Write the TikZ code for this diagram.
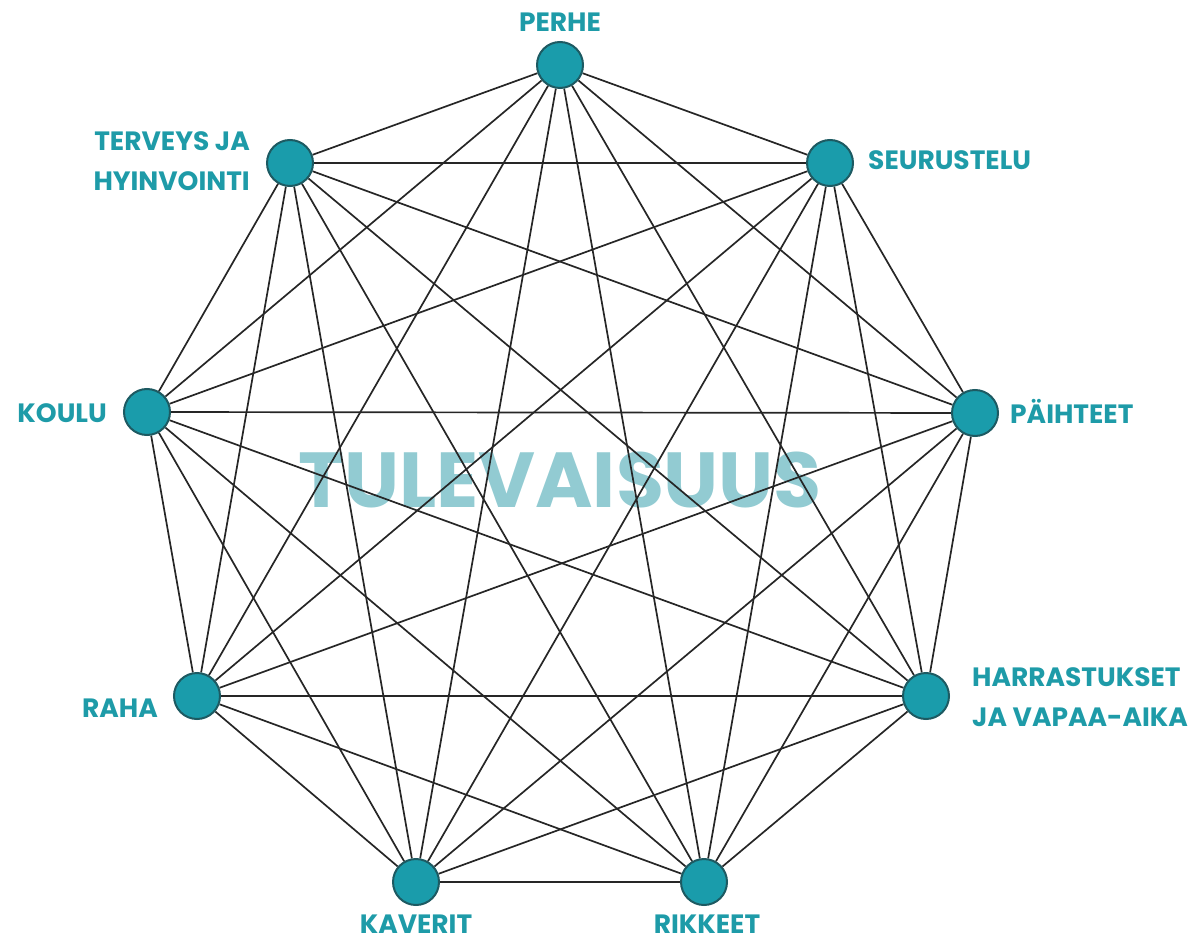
\documentclass[tikz,border=0pt]{standalone}
\usepackage{fontspec}
\setmainfont{Poppins}
\usetikzlibrary{backgrounds}
\definecolor{dotfill}{HTML}{1A9CAB}
\definecolor{dotline}{HTML}{1D5A62}
\definecolor{labcol}{HTML}{1E9BA8}
\definecolor{ghost}{HTML}{92CBD2}
\begin{document}
\begin{tikzpicture}[x=1pt,y=-1pt,
  dot/.style={circle,fill=dotfill,draw=dotline,line width=2pt,minimum size=46pt,inner sep=0pt},
  lbl/.style={text=labcol,font=\fontsize{26.5}{40}\selectfont\bfseries,inner sep=0pt},
  edge/.style={draw=black!85,line width=1.7pt}]
\useasboundingbox (0,0) rectangle (1199,941);
\node[dot] (n1) at (560,65) {};
\node[dot] (n2) at (830,163) {};
\node[dot] (n3) at (975,413) {};
\node[dot] (n4) at (926,696) {};
\node[dot] (n5) at (704,882) {};
\node[dot] (n6) at (416,882) {};
\node[dot] (n7) at (197,696) {};
\node[dot] (n8) at (147,412) {};
\node[dot] (n9) at (290,163) {};
\begin{scope}[on background layer]
\node[font=\fontsize{78}{78}\selectfont\bfseries,text=ghost,inner sep=0pt,anchor=base] (title) at (560,507) {TULEVAISUUS};
\foreach \i in {1,...,8}{
  \pgfmathtruncatemacro\k{\i+1}
  \foreach \j in {\k,...,9}{\draw[edge] (n\i) -- (n\j);}
}
\end{scope}
\node[lbl,anchor=base] (l1) at (560,32) {PERHE};
\node[lbl,anchor=base west] (l2) at (868,170) {SEURUSTELU};
\node[lbl,anchor=base west] (l3) at (1010,423) {PÄIHTEET};
\node[lbl,anchor=west,align=left] (l4) at (972,697) {HARRASTUKSET\\JA VAPAA-AIKA};
\node[lbl,anchor=base] (l5) at (707,933) {RIKKEET};
\node[lbl,anchor=base] (l6) at (416,933) {KAVERIT};
\node[lbl,anchor=base east] (l7) at (158,717) {RAHA};
\node[lbl,anchor=base east] (l8) at (107,422) {KOULU};
\node[lbl,anchor=east,align=right] (l9) at (250,161) {TERVEYS JA\\HYINVOINTI};
\end{tikzpicture}
\end{document}
